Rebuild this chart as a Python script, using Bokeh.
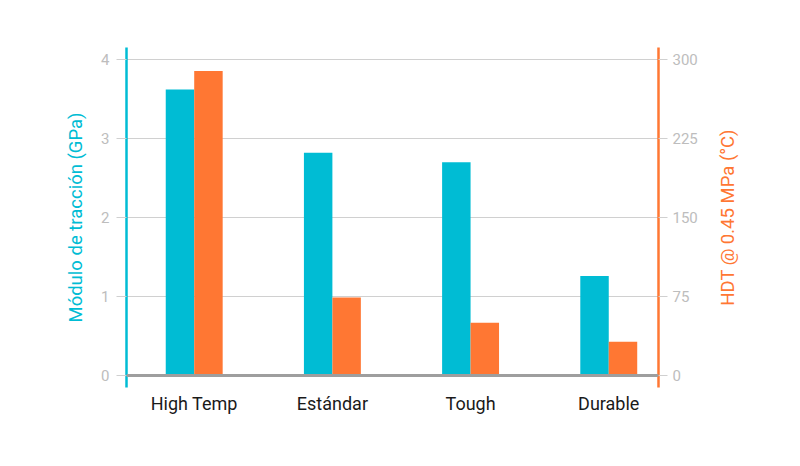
from bokeh.plotting import figure
from bokeh.layouts import row
from bokeh.models import Range1d, LinearAxis, FixedTicker, BoxAnnotation, ColumnDataSource
from bokeh.transform import dodge
from bokeh.embed import file_html
from bokeh.resources import INLINE

categories = ["High Temp", "Estándar", "Tough", "Durable"]
modulus_gpa = [3.62, 2.82, 2.70, 1.26]
hdt_c = [289, 74, 50, 32]
left_ticks = [0, 1, 2, 3, 4]
right_ticks = [0, 75, 150, 225, 300]
left_title = "Módulo de tracción (GPa)"
right_title = "HDT @ 0.45 MPa (°C)"

CYAN = "#00BCD4"
ORANGE = "#FF7733"
TICK_TXT = "#BDBDBD"
GRID = "#D0D0D0"
FONT = "Roboto"

idx = list(range(len(categories)))
src = ColumnDataSource(dict(x=idx, mod=modulus_gpa, hdt=hdt_c))

p = figure(width=700, height=458, output_backend="svg", toolbar_location=None,
           x_range=Range1d(-0.49, 3.36), y_range=Range1d(-0.152, 4.152),
           min_border_left=126, min_border_right=41, min_border_top=47, min_border_bottom=71,
           x_axis_location=None, y_axis_location=None)
p.extra_y_ranges = {"hdt": Range1d(-11.4, 311.4)}
p.outline_line_color = None
p.background_fill_color = "white"
p.border_fill_color = "white"

bw = 0.206
p.vbar(x=dodge("x", -bw / 2), top="mod", bottom=0, width=bw, source=src,
       fill_color=CYAN, line_color=None)
p.vbar(x=dodge("x", bw / 2), top="hdt", bottom=0, width=bw, source=src,
       fill_color=ORANGE, line_color=None, y_range_name="hdt")

# left axis
ly = LinearAxis(ticker=FixedTicker(ticks=left_ticks), axis_label=left_title)
ly.axis_line_color = CYAN
ly.axis_line_width = 2.5
ly.major_tick_line_color = GRID
ly.major_tick_out = 10
ly.major_tick_in = 0
ly.minor_tick_line_color = None
ly.major_label_text_color = TICK_TXT
ly.major_label_text_font = FONT
ly.major_label_text_font_size = "15px"
ly.major_label_standoff = 7
ly.axis_label_text_color = CYAN
ly.axis_label_text_font = FONT
ly.axis_label_text_font_size = "18.5px"
ly.axis_label_text_font_style = "normal"
ly.axis_label_standoff = 11
p.add_layout(ly, "left")

# right axis (ticks only; its title is drawn in the side panel below)
ry = LinearAxis(y_range_name="hdt", ticker=FixedTicker(ticks=right_ticks))
ry.axis_line_color = ORANGE
ry.axis_line_width = 2.5
ry.major_tick_line_color = GRID
ry.major_tick_out = 9
ry.major_tick_in = 0
ry.minor_tick_line_color = None
ry.major_label_text_color = TICK_TXT
ry.major_label_text_font = FONT
ry.major_label_text_font_size = "15px"
ry.major_label_standoff = 5
p.add_layout(ry, "right")

# bottom category axis
bx = LinearAxis(ticker=FixedTicker(ticks=idx),
                major_label_overrides={i: c for i, c in zip(idx, categories)})
bx.axis_line_color = None
bx.major_tick_line_color = None
bx.major_tick_out = 0
bx.major_tick_in = 0
bx.minor_tick_line_color = None
bx.major_label_text_color = "#1A1A1A"
bx.major_label_text_font = FONT
bx.major_label_text_font_size = "18px"
bx.major_label_standoff = 5
p.add_layout(bx, "below")

p.xgrid.visible = False
p.ygrid.ticker = FixedTicker(ticks=left_ticks)
p.ygrid.grid_line_color = GRID
p.ygrid.grid_line_width = 1

# baseline at zero
base = BoxAnnotation(bottom=-0.019, top=0.019, fill_color="#9E9E9E", fill_alpha=1,
                     line_color=None)
p.add_layout(base)

# side panel holding the right-hand title, reading bottom to top, centred
t = figure(width=92, height=458, output_backend="svg", toolbar_location=None,
           x_range=Range1d(0, 1), y_range=Range1d(0, 1),
           min_border_left=40, min_border_right=0, min_border_top=47, min_border_bottom=71,
           x_axis_location=None, y_axis_location=None)
t.outline_line_color = None
t.background_fill_color = "white"
t.border_fill_color = "white"
t.xgrid.visible = False
t.ygrid.visible = False
ta = LinearAxis(ticker=FixedTicker(ticks=[]), axis_label=right_title)
ta.axis_line_color = None
ta.major_tick_line_color = None
ta.minor_tick_line_color = None
ta.major_tick_out = 0
ta.major_tick_in = 0
ta.major_label_text_font_size = "0px"
ta.major_label_standoff = 0
ta.axis_label_text_color = ORANGE
ta.axis_label_text_font = FONT
ta.axis_label_text_font_size = "18.5px"
ta.axis_label_text_font_style = "normal"
ta.axis_label_standoff = 2
t.add_layout(ta, "left")

layout = row(p, t, spacing=0)
open("out.html", "w").write(file_html(layout, INLINE))
